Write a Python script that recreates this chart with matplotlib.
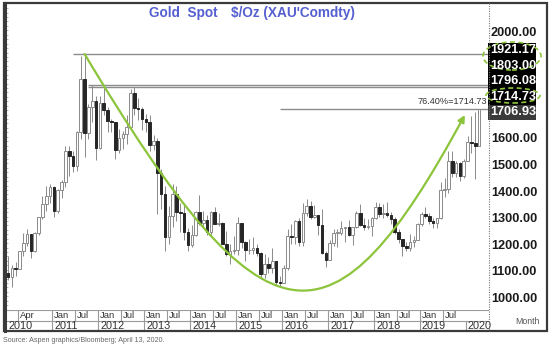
import numpy as np
import pandas as pd
import matplotlib
matplotlib.use("Agg")
import matplotlib.pyplot as plt
from matplotlib.patches import Rectangle, Ellipse, FancyArrowPatch
from matplotlib.path import Path
from matplotlib.transforms import blended_transform_factory

# ---------------- data ----------------
dates = pd.date_range("2010-01-01", periods=124, freq="MS")

opens = [1097,1081,1118,1113,1179,1212,1244,1181,1248,1307,1357,1386,
         1421,1332,1411,1439,1556,1536,1500,1628,1828,1624,1722,1746,
         1566,1737,1711,1669,1664,1560,1604,1622,1648,1773,1719,1713,
         1675,1664,1578,1595,1472,1393,1234,1313,1396,1327,1323,1253,
         1202,1240,1326,1284,1296,1250,1327,1282,1287,1208,1171,1182,
         1184,1284,1213,1183,1183,1190,1172,1095,1132,1115,1142,1065,
         1061,1118,1238,1233,1293,1215,1322,1351,1309,1316,1277,1173,
         1146,1211,1249,1249,1268,1269,1242,1269,1322,1280,1271,1275,
         1303,1345,1318,1325,1315,1299,1253,1224,1201,1192,1215,1222,
         1282,1321,1313,1292,1284,1305,1409,1414,1520,1472,1513,1464,
         1517,1589,1585,1577]
highs = [1162,1127,1138,1182,1249,1265,1244,1250,1308,1388,1424,1431,
         1424,1412,1448,1575,1577,1555,1632,1913,1921,1734,1803,1764,
         1763,1792,1721,1678,1666,1640,1630,1692,1788,1796,1754,1723,
         1695,1690,1617,1607,1487,1424,1348,1434,1424,1361,1362,1267,
         1280,1332,1392,1331,1315,1332,1345,1322,1290,1255,1206,1238,
         1307,1285,1219,1224,1232,1205,1175,1170,1156,1191,1142,1088,
         1127,1263,1283,1298,1304,1362,1375,1367,1352,1317,1337,1180,
         1220,1264,1262,1295,1270,1296,1270,1330,1357,1306,1299,1307,
         1366,1362,1356,1366,1326,1309,1265,1224,1214,1243,1237,1285,
         1326,1346,1324,1303,1306,1439,1453,1555,1557,1518,1516,1525,
         1611,1689,1704,1714]
lows = [1072,1044,1088,1113,1163,1200,1155,1175,1240,1300,1331,1360,
        1309,1325,1380,1422,1462,1478,1481,1603,1535,1600,1665,1523,
        1564,1690,1627,1628,1527,1547,1564,1584,1646,1693,1672,1635,
        1627,1555,1562,1321,1338,1180,1208,1270,1292,1251,1221,1182,
        1197,1238,1277,1268,1240,1240,1281,1273,1206,1161,1131,1170,
        1167,1190,1142,1170,1170,1162,1077,1080,1099,1098,1052,1046,
        1061,1110,1208,1208,1199,1200,1311,1301,1303,1241,1171,1122,
        1145,1200,1194,1241,1214,1236,1204,1266,1276,1260,1264,1236,
        1302,1307,1303,1310,1282,1245,1211,1160,1180,1182,1196,1221,
        1276,1303,1281,1266,1267,1301,1382,1400,1459,1459,1445,1455,
        1517,1547,1451,1576]
closes = [1081,1118,1113,1179,1212,1244,1181,1248,1307,1357,1386,1421,
          1332,1411,1439,1556,1536,1500,1628,1828,1624,1722,1746,1566,
          1737,1711,1669,1664,1560,1604,1622,1648,1773,1719,1713,1675,
          1664,1578,1595,1472,1393,1234,1313,1396,1327,1323,1253,1202,
          1240,1326,1284,1296,1250,1327,1282,1287,1208,1171,1182,1184,
          1284,1213,1183,1183,1190,1172,1095,1132,1115,1142,1065,1061,
          1118,1238,1233,1293,1215,1322,1351,1309,1316,1277,1173,1146,
          1211,1249,1249,1268,1269,1242,1269,1322,1280,1271,1275,1303,
          1345,1318,1325,1315,1299,1253,1224,1201,1192,1215,1222,1282,
          1321,1313,1292,1284,1305,1409,1414,1520,1472,1513,1464,1517,
          1589,1585,1577,1714]

y_ticks = [2000, 1600, 1500, 1400, 1300, 1200, 1100, 1000]
levels = [1921.17, 1803.00, 1796.08, 1714.73, 1706.93]
level_labels = ["1921.17", "1803.00", "1796.08", "1714.73", "1706.93"]
# horizontal reference lines: (price, start month index)
ref_lines = [(1921.17, 17), (1803.00, 21), (1796.08, 21), (1714.73, 71)]
fib_label = "76.40%=1714.73"
# rounding-bottom curve (month index, price) bezier controls
curve_x = [20, 67.4, 84.9, 119.3]
curve_y = [1921, 778, 778, 1692]

# ---------------- fonts ----------------
plt.rcParams["font.family"] = ["Liberation Sans", "DejaVu Sans"]

W, H = 550, 347
fig = plt.figure(figsize=(5.5, 3.47), dpi=100)
fig.patch.set_facecolor("white")

def fx(x):
    return x / W

def fy(y):
    return 1 - y / H

x = np.arange(len(dates))
L, R, T, B = 5, 489, 3, 310
ax = fig.add_axes([fx(L), fy(B), (R - L) / W, (B - T) / H])
ax.set_xlim(-0.78, 125.6)
ax.set_ylim(958.6, 2112.8)
for s in ax.spines.values():
    s.set_visible(False)
ax.set_xticks([])
ax.set_yticks([])

o = np.array(opens); h = np.array(highs); l = np.array(lows); c = np.array(closes)
up = c >= o
ax.vlines(x, l, h, color="#8a8a8a", lw=0.7, zorder=2)
body_b = np.minimum(o, c)
body_h = np.maximum(np.abs(c - o), 2)
ax.bar(x[up], body_h[up], bottom=body_b[up], width=0.68, color="white",
       edgecolor="#8a8a8a", lw=0.7, zorder=3)
ax.bar(x[~up], body_h[~up], bottom=body_b[~up], width=0.68, color="#262626",
       edgecolor="#262626", lw=0.7, zorder=3)

# reference lines
for price, start in ref_lines:
    ax.hlines(price, start, ax.get_xlim()[1], color="#8c8c8c", lw=1.0, zorder=1)
ax.text(125.0, 1714.73 + 12, fib_label, ha="right", va="bottom",
        fontsize=6.6, color="#333333")

# green curve with arrow
verts = list(zip(curve_x, curve_y))
path = Path(verts, [Path.MOVETO, Path.CURVE4, Path.CURVE4, Path.CURVE4])
arrow = FancyArrowPatch(path=path, arrowstyle="-|>,head_length=4,head_width=2",
                        color="#8cc43c", lw=1.6, transform=ax.transData, zorder=4)
ax.add_patch(arrow)

# left axis minor ticks
tk = np.arange(960, 2110, 100 / 6)
ax.hlines(tk, -0.78, 0.0, color="#aaaaaa", lw=0.6, zorder=1)

# right axis dotted line
fig.add_artist(plt.Line2D([fx(R), fx(R)], [fy(T), fy(331)], color="#777777",
                          lw=0.8, ls=(0, (1, 1.2))))

# right tick labels
trans = blended_transform_factory(ax.transAxes, ax.transData)
for v in y_ticks:
    ax.text(1.004, v, f"{v:.2f}", transform=trans, ha="left", va="center",
            fontsize=9.2, fontweight="bold", color="#1a1a1a", clip_on=False)

# stacked level boxes
box_top, box_h = 42.5, 15.5
for i, lab in enumerate(level_labels):
    y0 = box_top + i * box_h
    fc = "#000000" if i < 4 else "#3a3a3a"
    fig.add_artist(Rectangle((fx(488), fy(y0 + box_h)), 48 / W, box_h / H,
                             transform=fig.transFigure, fc=fc, ec="none"))
    fig.text(fx(490), fy(y0 + box_h / 2), lab, ha="left", va="center",
             fontsize=9.2, fontweight="bold", color="white")

# dashed ellipses
for cx, cy, ew, eh in [(512, 56, 58, 28), (513, 95.5, 54, 15)]:
    fig.add_artist(Ellipse((fx(cx), fy(cy)), ew / W, eh / H, transform=fig.transFigure,
                           fill=False, ec="#8cc43c", lw=1.2, ls=(0, (3, 2))))

# bottom label rows
axb = fig.add_axes([fx(L), fy(331), (R - L) / W, 21 / H], sharex=ax)
axb.set_ylim(0, 2)
axb.axis("off")
axb.set_xlim(-0.78, 125.6)
axb.axhline(2, color="#9a9a9a", lw=0.8)
axb.axhline(1, color="#9a9a9a", lw=0.8)

month_marks = [(2.5, "Apr")]
for yr in range(2011, 2020):
    mi = (yr - 2010) * 12
    month_marks.append((mi - 0.5, "Jan"))
    month_marks.append((mi + 5.5, "Jul"))
for pos, lab in month_marks:
    axb.vlines(pos, 1, 2, color="#9a9a9a", lw=0.8)
    axb.text(pos + 0.6, 1.45, lab, ha="left", va="center", fontsize=6.8, color="#333333")

for yr in range(2010, 2021):
    mi = (yr - 2010) * 12 - 0.5
    if yr > 2010:
        axb.vlines(mi, 0, 1, color="#9a9a9a", lw=0.8)
    axb.text(max(mi, -0.5) + 0.6, 0.45, str(yr), ha="left", va="center",
             fontsize=7.8, color="#333333")

fig.text(fx(527), fy(322), "Month", ha="center", va="center", fontsize=6.3, color="#555555")

# outer frame
fig.add_artist(Rectangle((fx(4), fy(331)), 543 / W, 328 / H, transform=fig.transFigure,
                         fill=False, ec="#3a3a3a", lw=1.6))
fig.add_artist(plt.Line2D([fx(5), fx(5)], [fy(3), fy(331)], color="#3a3a3a", lw=2.2))

# title
fig.text(fx(149), fy(13), "Gold  Spot", ha="left", va="center", fontsize=9.8,
         fontweight="bold", color="#5560d0")
fig.text(fx(231), fy(13), "$/Oz (XAU'Comdty)", ha="left", va="center", fontsize=9.8,
         fontweight="bold", color="#5560d0")

fig.text(fx(3), fy(340), "Source: Aspen graphics/Bloomberg; April 13, 2020.",
         ha="left", va="center", fontsize=5.1, color="#666666")

fig.savefig("out.png", dpi=100)
